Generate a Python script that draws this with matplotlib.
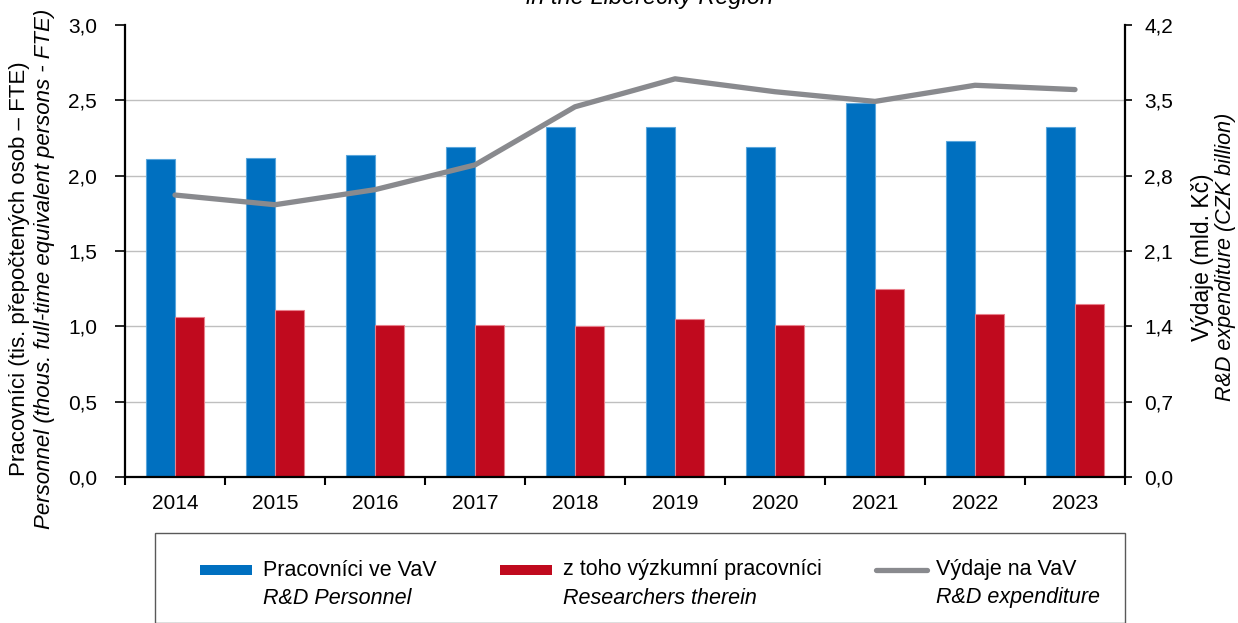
import matplotlib.pyplot as plt
import numpy as np
from matplotlib.patches import Rectangle
from matplotlib.lines import Line2D
from matplotlib.ticker import FuncFormatter, FixedLocator

plt.rcParams['font.family'] = ['Liberation Sans', 'DejaVu Sans']
plt.rcParams['font.size'] = 15

# data
years = ['2014', '2015', '2016', '2017', '2018', '2019', '2020', '2021', '2022', '2023']
personnel = [2.11, 2.12, 2.14, 2.19, 2.32, 2.32, 2.19, 2.48, 2.23, 2.32]      # thous. FTE
researchers = [1.06, 1.11, 1.01, 1.01, 1.00, 1.05, 1.01, 1.25, 1.08, 1.15]    # thous. FTE
expenditure = [2.62, 2.53, 2.67, 2.90, 3.44, 3.70, 3.58, 3.49, 3.64, 3.60]    # CZK bn

left_ticks = [0.0, 0.5, 1.0, 1.5, 2.0, 2.5, 3.0]
right_ticks = [0.0, 0.7, 1.4, 2.1, 2.8, 3.5, 4.2]

blue = '#0070C0'
red = '#C00A1E'
grey = '#898A8E'

W, H = 1238, 623
fig = plt.figure(figsize=(W / 100, H / 100), dpi=100)
ax = fig.add_axes([125 / W, 1 - 477 / H, 1000 / W, 452 / H])

x = np.arange(len(years))
bw = 0.287
ax.bar(x - bw / 2, personnel, bw, color=blue, edgecolor='#5AA6DC', linewidth=0.8, zorder=2)
ax.bar(x + bw / 2, researchers, bw, color=red, edgecolor='#E8808C', linewidth=0.8, zorder=2)

ax.set_xlim(-0.5, len(years) - 0.5)
ax.set_ylim(0, 3)
ax.yaxis.set_major_locator(FixedLocator(left_ticks))
comma = FuncFormatter(lambda v, p: f'{v:.1f}'.replace('.', ','))
ax.yaxis.set_major_formatter(comma)
ax.yaxis.grid(True, color='#BFBFBF', linewidth=1, zorder=0)
ax.get_ygridlines()[-1].set_visible(False)
ax.set_axisbelow(True)

ax.set_xticks(x)
ax.set_xticklabels(years)
ax.set_xticks(np.arange(len(years) + 1) - 0.5, minor=True)
ax.tick_params(axis='x', which='major', length=0, pad=12)
ax.tick_params(axis='x', which='minor', length=6, width=1.5, direction='out')
ax.tick_params(axis='y', length=7, width=1.2, pad=13)

for s in ['top', 'right']:
    ax.spines[s].set_visible(False)
for s in ['left', 'bottom']:
    ax.spines[s].set_linewidth(1.6)
    ax.spines[s].set_color('black')

ax2 = ax.twinx()
ax2.plot(x, expenditure, color=grey, linewidth=3.8, solid_capstyle='round', zorder=3)
ax2.set_ylim(0, 4.2)
ax2.yaxis.set_major_locator(FixedLocator(right_ticks))
ax2.yaxis.set_major_formatter(comma)
ax2.tick_params(axis='y', length=5, width=1.2, pad=9)
for s in ['top', 'left', 'bottom']:
    ax2.spines[s].set_visible(False)
ax2.spines['right'].set_linewidth(1.6)

# axis titles
fig.text(20 / W, 1 - 269 / H, 'Pracovníci (tis. přepočtených osob – FTE)',
         rotation=90, ha='center', va='center', fontsize=16)
fig.text(45 / W, 1 - 269 / H, 'Personnel (thous. full-time equivalent persons - FTE)',
         rotation=90, ha='center', va='center', style='italic', fontsize=16)
fig.text(1202 / W, 1 - 257 / H, 'Výdaje (mld. Kč)',
         rotation=90, ha='center', va='center', fontsize=16.5)
fig.text(1226 / W, 1 - 257 / H, 'R&D expenditure (CZK billion)',
         rotation=90, ha='center', va='center', style='italic', fontsize=15.5)

# title (second line only visible)
fig.text(650 / W, 1 - 4 / H, 'in the Liberecký Region', ha='center', va='baseline',
         style='italic', fontsize=17)

# legend box
fig.add_artist(Rectangle((155 / W, 0), 970 / W, (H - 533) / H, transform=fig.transFigure,
                         facecolor='white', edgecolor='#595959', linewidth=1))
entries = [
    ('patch', blue, 200, 263, 'Pracovníci ve VaV', 'R&D Personnel'),
    ('patch', red, 500, 563, 'z toho výzkumní pracovníci', 'Researchers therein'),
    ('line', grey, 873, 936, 'Výdaje na VaV', 'R&D expenditure'),
]
for kind, col, hx, tx, l1, l2 in entries:
    if kind == 'patch':
        fig.add_artist(Rectangle((hx / W, 1 - 575 / H), 52 / W, 10 / H,
                                 transform=fig.transFigure, facecolor=col, edgecolor='none'))
    else:
        fig.add_artist(Line2D([(hx + 3) / W, 927 / W], [1 - 570 / H] * 2, transform=fig.transFigure,
                              color=col, linewidth=3.8, solid_capstyle='round'))
    fig.text(tx / W, 1 - 570 / H, l1, ha='left', va='center', fontsize=15.5)
    fig.text(tx / W, 1 - 598 / H, l2, ha='left', va='center', style='italic', fontsize=15.5)

fig.savefig('out.png', dpi=100)
